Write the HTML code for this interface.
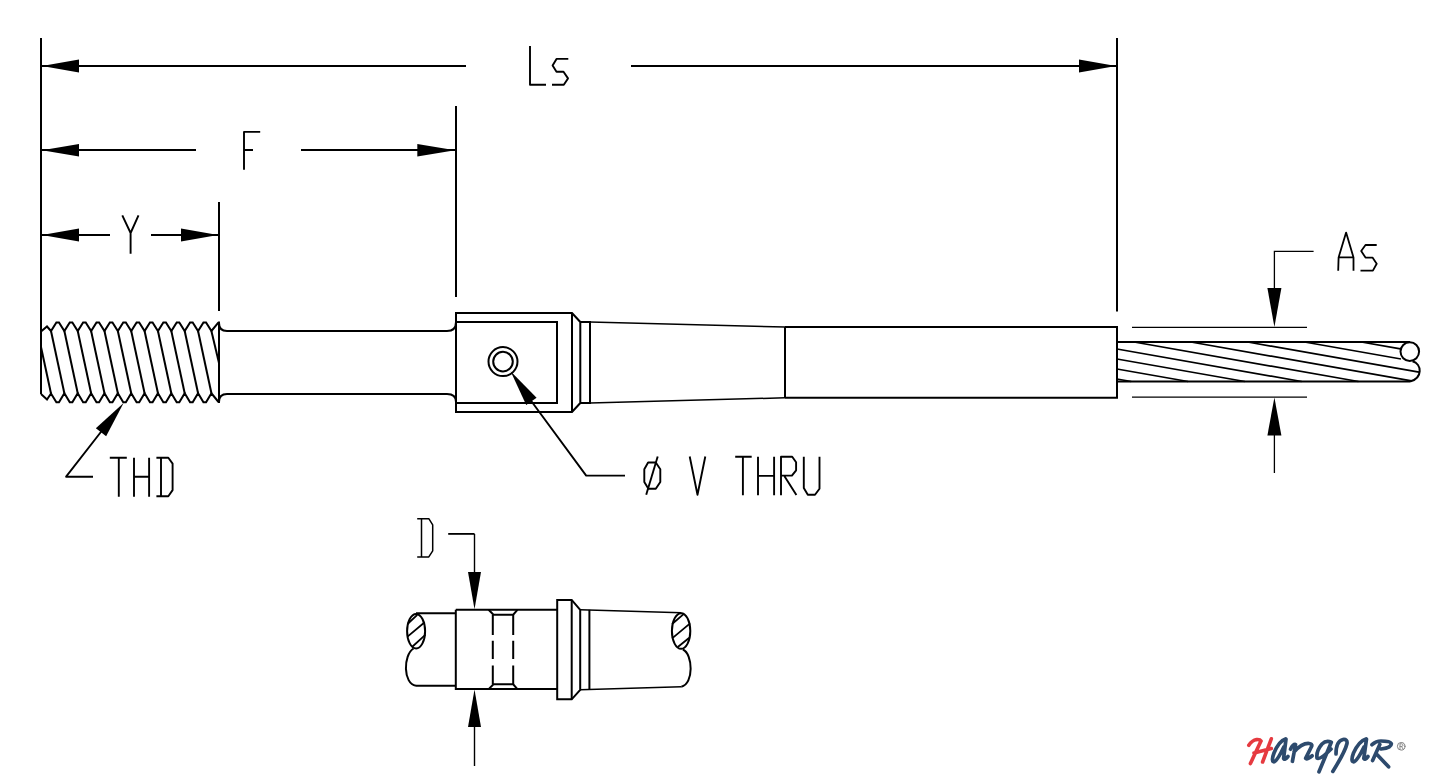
<!DOCTYPE html>
<html><head><meta charset="utf-8"><title>Drawing</title>
<style>html,body{margin:0;padding:0;background:#fff;}body{width:1430px;height:782px;overflow:hidden;font-family:"Liberation Sans",sans-serif;}svg{display:block;}</style>
</head><body>
<svg width="1430" height="782" viewBox="0 0 1430 782">
<g fill="none" stroke="#000" stroke-linecap="butt" stroke-linejoin="miter">
<line x1="41.00" y1="38.00" x2="41.00" y2="394.00" stroke-width="2.0"/>
<line x1="1117.00" y1="38.00" x2="1117.00" y2="311.50" stroke-width="2.0"/>
<line x1="42.00" y1="66.00" x2="466.00" y2="66.00" stroke-width="2.0"/>
<line x1="631.00" y1="66.00" x2="1116.00" y2="66.00" stroke-width="2.0"/>
<path d="M42.00,66.00 L79.00,72.50 L79.00,59.50 Z" fill="#000" stroke="none"/>
<path d="M1116.00,66.00 L1079.00,59.50 L1079.00,72.50 Z" fill="#000" stroke="none"/>
<path d="M530,46 L530,84.8 L546,84.8" stroke-width="1.9" stroke-linejoin="round"/>
<path d="M568.3,58.9 L556.5,58.9 L552.6,65.6 L556.5,71.7 L563.5,71.7 L568,78.4 L563.8,84.8 L552,84.8" stroke-width="1.9" stroke-linejoin="round"/>
<line x1="456.00" y1="106.00" x2="456.00" y2="297.00" stroke-width="2.0"/>
<line x1="42.00" y1="150.00" x2="196.00" y2="150.00" stroke-width="2.0"/>
<line x1="301.00" y1="150.00" x2="455.00" y2="150.00" stroke-width="2.0"/>
<path d="M42.00,150.30 L79.00,156.60 L79.00,144.00 Z" fill="#000" stroke="none"/>
<path d="M455.00,150.30 L417.30,144.00 L417.30,156.60 Z" fill="#000" stroke="none"/>
<path d="M260.2,131.9 L244,131.9 L244,169.8 M244,150 L253,150" stroke-width="1.9" stroke-linejoin="round"/>
<line x1="219.00" y1="202.00" x2="219.00" y2="311.00" stroke-width="2.0"/>
<line x1="42.00" y1="235.00" x2="110.00" y2="235.00" stroke-width="2.0"/>
<line x1="151.00" y1="235.00" x2="218.00" y2="235.00" stroke-width="2.0"/>
<path d="M42.00,235.00 L79.00,241.50 L79.00,228.50 Z" fill="#000" stroke="none"/>
<path d="M218.00,235.00 L181.00,228.50 L181.00,241.50 Z" fill="#000" stroke="none"/>
<path d="M122.3,215.4 L130.6,233 L138.5,215.4 M130.6,233 L130.6,253.7" stroke-width="1.9" stroke-linejoin="round"/>
<path d="M41,331.5 L47,326.5 L51,331 L56.39,322.4 L58.98,322.4 L64.37,331 L69.76,322.4 L72.36,322.4 L77.74,331 L83.12,322.4 L85.72,322.4 L91.11,331 L96.50,322.4 L99.09,322.4 L104.48,331 L109.86,322.4 L112.46,322.4 L117.85,331 L123.23,322.4 L125.83,322.4 L131.22,331 L136.60,322.4 L139.21,322.4 L144.59,331 L149.97,322.4 L152.57,322.4 L157.96,331 L163.34,322.4 L165.94,322.4 L171.33,331 L176.71,322.4 L179.31,322.4 L184.70,331 L190.08,322.4 L192.69,322.4 L198.07,331 L203.45,322.4 L206.06,322.4 L211.44,331 L218.5,322.4" stroke-width="2.0" />
<path d="M41,394 L47,399.5 L51,393.5 L56.39,402.3 L58.98,402.3 L64.37,393.3 L69.76,402.3 L72.36,402.3 L77.74,393.3 L83.12,402.3 L85.72,402.3 L91.11,393.3 L96.50,402.3 L99.09,402.3 L104.48,393.3 L109.86,402.3 L112.46,402.3 L117.85,393.3 L123.23,402.3 L125.83,402.3 L131.22,393.3 L136.60,402.3 L139.21,402.3 L144.59,393.3 L149.97,402.3 L152.57,402.3 L157.96,393.3 L163.34,402.3 L165.94,402.3 L171.33,393.3 L176.71,402.3 L179.31,402.3 L184.70,393.3 L190.08,402.3 L192.69,402.3 L198.07,393.3 L203.45,402.3 L206.06,402.3 L211.44,393.3 L218.5,402" stroke-width="2.0" />
<path d="M41,347 L51,393.5" stroke-width="2.0" />
<path d="M51.00,331 L64.37,393.3" stroke-width="2.0" />
<path d="M64.37,331 L77.74,393.3" stroke-width="2.0" />
<path d="M77.74,331 L91.11,393.3" stroke-width="2.0" />
<path d="M91.11,331 L104.48,393.3" stroke-width="2.0" />
<path d="M104.48,331 L117.85,393.3" stroke-width="2.0" />
<path d="M117.85,331 L131.22,393.3" stroke-width="2.0" />
<path d="M131.22,331 L144.59,393.3" stroke-width="2.0" />
<path d="M144.59,331 L157.96,393.3" stroke-width="2.0" />
<path d="M157.96,331 L171.33,393.3" stroke-width="2.0" />
<path d="M171.33,331 L184.70,393.3" stroke-width="2.0" />
<path d="M184.70,331 L198.07,393.3" stroke-width="2.0" />
<path d="M198.07,331 L211.44,393.3" stroke-width="2.0" />
<path d="M211.4,331 L219,363" stroke-width="2.0" />
<line x1="219.00" y1="321.50" x2="219.00" y2="403.00" stroke-width="2.0"/>
<path d="M219,323 Q219,331 227,331 L447,331 Q456,331 456,322" stroke-width="2.0" />
<path d="M219,402 Q219,394 227,394 L447,394 Q456,394 456,402" stroke-width="2.0" />
<path d="M456,313 L572,313 L580.3,322 L580.3,403 L572,412 L456,412 Z" stroke-width="2.0" />
<path d="M456,322 L557,322 L557,403 L456,403" stroke-width="2.0" />
<path d="M572,313 L572,412" stroke-width="2.0" />
<path d="M580.3,322 L590,322 L590,403 L580.3,403" stroke-width="2.0" />
<path d="M590,322 L785,327" stroke-width="1.5" />
<path d="M590,403 L785,397.8" stroke-width="1.5" />
<path d="M785,327 L1117,327 L1117,397.8 L785,397.8" stroke-width="2.0" />
<line x1="785.00" y1="327.00" x2="785.00" y2="397.80" stroke-width="2.0"/>
<circle cx="503" cy="361.6" r="14.5" stroke-width="2"/>
<circle cx="503" cy="361.6" r="9.8" stroke-width="2"/>
<path d="M510.60,371.30 L526.22,404.98 L536.58,397.82 Z" fill="#000" stroke="none"/>
<path d="M529,398 L586.2,475.6 L625,475.6" stroke-width="1.9" stroke-linejoin="round"/>
<line x1="1117.00" y1="342.00" x2="1410.00" y2="342.00" stroke-width="2.0"/>
<line x1="1117.00" y1="381.50" x2="1410.00" y2="381.50" stroke-width="2.0"/>
<circle cx="1409.8" cy="351.6" r="9.3" stroke-width="2"/>
<path d="M1412.5,361.2 C1422,364 1423,378 1410,381.5" stroke-width="2.0" />
<line x1="1117.00" y1="379.00" x2="1131.20" y2="381.50" stroke-width="1.7"/>
<line x1="1117.00" y1="369.00" x2="1188.02" y2="381.50" stroke-width="1.7"/>
<line x1="1117.00" y1="359.00" x2="1244.84" y2="381.50" stroke-width="1.7"/>
<line x1="1117.00" y1="349.00" x2="1301.66" y2="381.50" stroke-width="1.7"/>
<line x1="1134.05" y1="342.00" x2="1358.48" y2="381.50" stroke-width="1.7"/>
<line x1="1190.86" y1="342.00" x2="1411.50" y2="380.83" stroke-width="1.7"/>
<line x1="1247.68" y1="342.00" x2="1419.00" y2="372.15" stroke-width="1.7"/>
<line x1="1304.50" y1="342.00" x2="1401.00" y2="358.98" stroke-width="1.7"/>
<line x1="1361.32" y1="342.00" x2="1400.50" y2="348.90" stroke-width="1.7"/>
<line x1="1132.00" y1="327.40" x2="1307.00" y2="327.40" stroke-width="1.3"/>
<line x1="1132.00" y1="397.20" x2="1307.00" y2="397.20" stroke-width="1.3"/>
<path d="M1313.6,251.4 L1274.4,251.4 L1274.4,300" stroke-width="1.3" />
<path d="M1274.40,327.00 L1281.40,288.00 L1267.40,288.00 Z" fill="#000" stroke="none"/>
<path d="M1274.4,420 L1274.4,473" stroke-width="1.3" />
<path d="M1274.40,397.50 L1267.40,435.40 L1281.40,435.40 Z" fill="#000" stroke="none"/>
<path d="M1338.2,270.8 L1338.6,257.4 L1346.1,232.6 L1353.5,257.4 L1353.5,270.8 M1338.6,257.4 L1353.5,257.4" stroke-width="1.8" stroke-linejoin="round"/>
<path d="M1376.7,245 L1365.5,245 L1361.2,251 L1365.5,257.6 L1372.5,257.6 L1376.7,263.8 L1372.9,270.6 L1360.5,270.6" stroke-width="1.8" stroke-linejoin="round"/>
<path d="M123.60,403.00 L95.86,428.22 L106.14,436.18 Z" fill="#000" stroke="none"/>
<path d="M104,428 L66.1,476.7 L93,476.7" stroke-width="1.9" stroke-linejoin="round"/>
<path d="M109.8,457.8 L126.8,457.8 M118.8,457.8 L118.8,496.8" stroke-width="1.9" stroke-linejoin="round"/>
<path d="M134,457.8 L134,496.8 M149.1,457.8 L149.1,496.8 M134,476.8 L149.1,476.8" stroke-width="1.9" stroke-linejoin="round"/>
<path d="M156.4,457.8 L168.3,457.8 L172.6,463.6 L172.6,490.1 L168.3,496.2 L156.4,496.2 M161,457.8 L161,496.2" stroke-width="1.9" stroke-linejoin="round"/>
<path d="M648.1,462.5 L655.8,462.5 L660.3,469.2 L660.3,482 L655.8,488.7 L648.4,488.7 L644.3,482 L644.3,469.2 Z" stroke-width="1.9" stroke-linejoin="round"/>
<path d="M657.7,456.5 L646.2,494.7" stroke-width="1.9" stroke-linejoin="round"/>
<path d="M689.7,456.5 L697.5,494.7 L705.3,456.5" stroke-width="1.9" stroke-linejoin="round"/>
<path d="M735.2,456.7 L751.7,456.7 M742.9,456.7 L742.9,495.3" stroke-width="1.9" stroke-linejoin="round"/>
<path d="M758,456.7 L758,495.3 M774.1,456.7 L774.1,495.3 M758,475.9 L774.1,475.9" stroke-width="1.9" stroke-linejoin="round"/>
<path d="M781,495.3 L781,456.7 L792.2,456.7 L796.1,462.2 L796.1,470.3 L791.9,475.6 L781,475.6 M784.5,476.2 L796.4,495" stroke-width="1.9" stroke-linejoin="round"/>
<path d="M803.8,456.7 L803.8,488 L807.8,494.8 L815,494.8 L819.5,488.8 L819.5,456.7" stroke-width="1.9" stroke-linejoin="round"/>
<path d="M417.2,518.7 L428.8,518.7 L432.7,524.8 L432.7,550.8 L428.8,556.9 L417.2,556.9 M421.5,518.7 L421.5,556.9" stroke-width="1.5" stroke-linejoin="round"/>
<path d="M448.2,533.9 L474.5,533.9" stroke-width="1.8" />
<path d="M474.5,533.9 L474.5,580" stroke-width="1.4" />
<path d="M474.50,609.20 L481.00,571.90 L468.00,571.90 Z" fill="#000" stroke="none"/>
<path d="M474.5,700 L474.5,766" stroke-width="1.4" />
<path d="M474.50,689.50 L468.00,727.00 L481.00,727.00 Z" fill="#000" stroke="none"/>
<path d="M455.8,609.8 L557.2,609.8 M455.8,609.8 L455.8,689.1 L557.2,689.1" stroke-width="2.0" />
<path d="M557.2,599.9 L571.7,599.9 L580.2,609.8 L580.2,689.8 L571.7,699.3 L557.2,699.3 Z" stroke-width="2.0" />
<line x1="571.70" y1="599.90" x2="571.70" y2="699.30" stroke-width="2.0"/>
<line x1="589.40" y1="609.80" x2="589.40" y2="689.80" stroke-width="2.0"/>
<path d="M580.2,609.8 L681.3,612.7" stroke-width="1.6" />
<path d="M580.2,689.8 L681.3,686.7" stroke-width="1.6" />
<path d="M416,613.3 L455.8,613.3" stroke-width="2.0" />
<path d="M416,685.8 L455.8,685.8" stroke-width="2.0" />
<ellipse cx="416.1" cy="631.2" rx="9" ry="17.2" stroke-width="2"/>
<path d="M413.5,648.5 C403,655 403,684 416,685.8" stroke-width="2.0" />
<path d="M407.5,624 L417.3,614.8 M407.5,636.6 L424.7,622.3 M412,647 L425.3,634.9" stroke-width="1.8" />
<ellipse cx="681.1" cy="631" rx="9.2" ry="17.8" stroke-width="2"/>
<path d="M682.9,649.5 C693,654 694,684 681.3,686.7" stroke-width="2.0" />
<path d="M672.1,624 L684.2,613.6 M672.1,638.4 L690.1,623.4 M677.8,647 L689.3,637.8" stroke-width="1.8" />
<path d="M488.6,609.8 L493.5,614.7 L513.2,614.7 L517.4,609.8" stroke-width="2.0" />
<path d="M488.6,689.1 L493.5,684.3 L513.2,684.3 L517.4,689.1" stroke-width="2.0" />
<path d="M492.8,614.7 L492.8,635.1 M492.8,640.7 L492.8,659 M492.8,665.4 L492.8,684.3" stroke-width="2.0" />
<path d="M513.2,614.7 L513.2,635.1 M513.2,640.7 L513.2,659 M513.2,665.4 L513.2,684.3" stroke-width="2.0" />
</g>

<g fill="none" stroke-linecap="round" stroke-linejoin="round">
<path d="M1248.8,745.3 Q1252,740.5 1256.6,739.6 Q1260,739.3 1261,741 M1260.5,742.1 L1250.4,763.6 M1271.3,738.8 L1262.6,762 M1254,753 L1271.3,748.5" stroke="#e63a40" stroke-width="3.6"/>
<g stroke="#2d4a6d" stroke-width="3.7">
<path d="M1285.5,739 Q1279,741 1274,753 Q1271,761 1273.8,761.8 Q1277,761.5 1283.8,747 M1286,739 L1283.6,758.5 Q1284.5,760.5 1288,756.5"/>
<path d="M1290.5,749.2 Q1293,744 1295.6,744.5 L1292.4,761.3 M1294,752 Q1302,743 1309,743.5 Q1312.5,744 1311.8,746 L1305.6,758.4 Q1307,760 1312.2,755.8"/>
<path d="M1331.3,742.2 Q1326,740 1322,744 Q1316,751 1317,758 Q1320,760.5 1331,749 M1331.3,742.2 L1319,771.8"/>
<path d="M1336,754 Q1336,741 1343,739.5 Q1347.6,739 1347,743.5 Q1345,752 1332.8,771.4"/>
<path d="M1366,739 Q1359,741 1353.5,753 Q1350.5,761 1353.5,761.8 Q1357,761.5 1364,747 M1366.5,739 L1363.8,758.5 Q1364.8,760.5 1368,756.5"/>
<path d="M1372,744.7 Q1376,741 1381,741 Q1390,741 1391.3,743.5 Q1391.8,747.5 1381,749 M1379.8,744.5 L1372.6,760.5 M1377.2,754.8 L1388.6,766.8"/>
</g>
<circle cx="1401.2" cy="746.3" r="3.8" stroke="#808080" stroke-width="1"/>
<path d="M1400,749 L1400,743.8 L1401.8,743.8 Q1403,744 1403,745.2 Q1403,746.4 1401.6,746.4 L1400,746.4 M1401.5,746.4 L1403,749" stroke="#808080" stroke-width="0.9"/>
</g>

</svg>
</body></html>
